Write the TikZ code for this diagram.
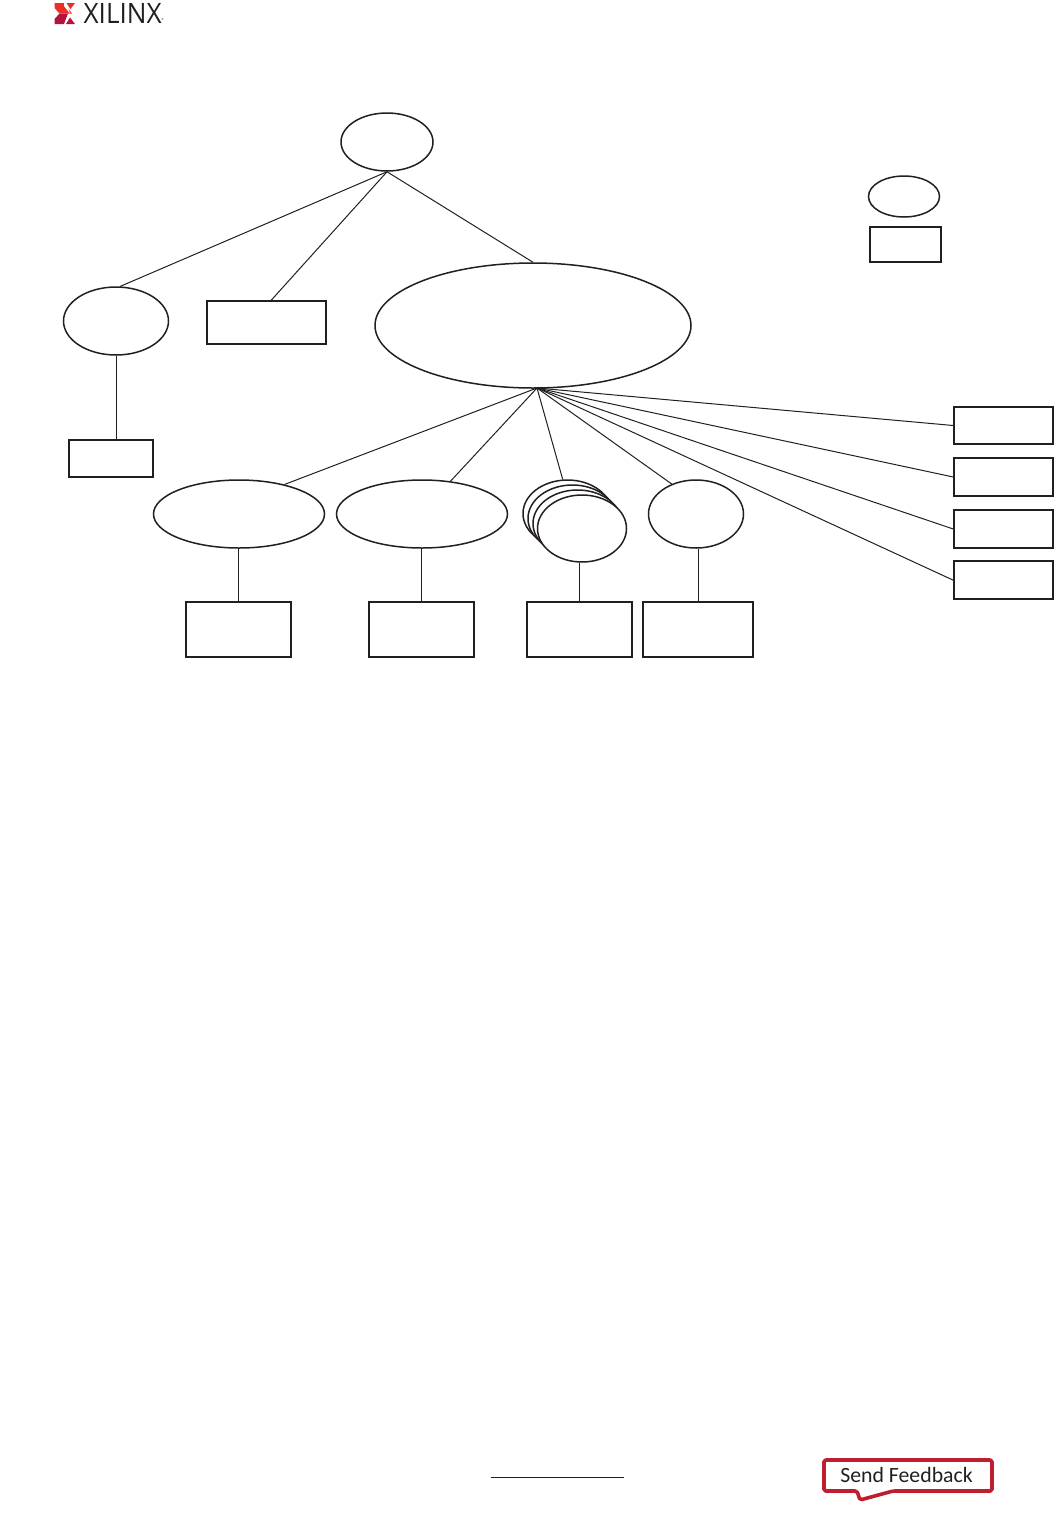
\documentclass[tikz,border=0pt]{standalone}
\usepackage{fontspec}
\setmainfont{Carlito}
\usetikzlibrary{shapes.geometric}
\definecolor{xred}{HTML}{ED2E24}
\definecolor{xdark}{HTML}{B5123E}
\definecolor{xink}{HTML}{231F20}
\definecolor{fbred}{HTML}{BE1E2D}
\tikzset{
  x=0.05cm,y=-0.05cm,
  oval/.style={ellipse,draw=xink,line width=0.75mm,fill=white,inner sep=0pt,minimum width=#1},
  box/.style={rectangle,draw=xink,line width=0.75mm,fill=white,inner sep=0pt,minimum width=#1},
  link/.style={draw=xink,line width=0.5mm},
}
\begin{document}
\begin{tikzpicture}
\useasboundingbox (0,0) rectangle (1062,1516);
% ovals
\node[oval=92*0.05cm,minimum height=58*0.05cm] (root) at (387,142) {};
\node[oval=71*0.05cm,minimum height=41*0.05cm] (keyoval) at (904,196.5) {};
\node[box=71*0.05cm,minimum height=35*0.05cm] (keybox) at (905.5,244.5) {};
\node[oval=105*0.05cm,minimum height=68*0.05cm] (left) at (116,321) {};
\node[box=119*0.05cm,minimum height=43*0.05cm] (mid) at (266.5,322.5) {};
\node[oval=316*0.05cm,minimum height=125*0.05cm] (big) at (533,325.5) {};
\node[box=84*0.05cm,minimum height=37*0.05cm] (leftbox) at (111,458.5) {};
\node[oval=171*0.05cm,minimum height=68*0.05cm] (ca) at (239,514) {};
\node[oval=171*0.05cm,minimum height=68*0.05cm] (cb) at (422,514) {};
\node[oval=89*0.05cm,minimum height=67*0.05cm] (sa) at (567.5,513.5) {};
\node[oval=89*0.05cm,minimum height=67*0.05cm] (sb) at (572.5,518.5) {};
\node[oval=89*0.05cm,minimum height=67*0.05cm] (sc) at (577.5,523.5) {};
\node[oval=89*0.05cm,minimum height=67*0.05cm] (sd) at (582,528.5) {};
\node[oval=95*0.05cm,minimum height=68*0.05cm] (ce) at (696,514) {};
\node[box=105*0.05cm,minimum height=55*0.05cm] (ba) at (238.5,629.5) {};
\node[box=105*0.05cm,minimum height=55*0.05cm] (bb) at (421.5,629.5) {};
\node[box=105*0.05cm,minimum height=55*0.05cm] (bc) at (579.5,629.5) {};
\node[box=110*0.05cm,minimum height=55*0.05cm] (bd) at (698,629.5) {};
\node[box=99*0.05cm,minimum height=37*0.05cm] (ra) at (1003.5,425.5) {};
\node[box=99*0.05cm,minimum height=38*0.05cm] (rb) at (1003.5,477) {};
\node[box=99*0.05cm,minimum height=38*0.05cm] (rc) at (1003.5,529) {};
\node[box=99*0.05cm,minimum height=38*0.05cm] (rd) at (1003.5,580.2) {};
\coordinate (hub) at (537,388);
% connectors
\draw[link] (root.south) -- (left.83);
\draw[link] (root.south) -- (mid.78);
\draw[link] (root.south) -- (big.north);
\draw[link] (left.south) -- (leftbox.north -| left.south);
\draw[link] (hub) -- (ca.33);
\draw[link] (hub) -- (cb.49);
\draw[link] (hub) -- (sa.98);
\draw[link] (hub) -- (ce.129);
\draw[link] (hub) -- (ra.west);
\draw[link] (hub) -- (rb.west);
\draw[link] (hub) -- (rc.west);
\draw[link] (hub) -- (rd.west);
\draw[link] (ca.south -| ba.north) -- (ba.north);
\draw[link] (cb.south -| bb.north) -- (bb.north);
\draw[link] (sd.south -| bc.north) -- (bc.north);
\draw[link] (ce.south -| bd.north) -- (bd.north);
% footer link
\coordinate (ula) at (491,1477);
\coordinate (ulb) at (624,1477);
\draw[blue,line width=0.5mm] (ula) -- (ulb);
% logo
\fill[xred] (54.5,3) -- (64,3) -- (72,13.5) -- (59.5,13.5) -- (54.5,8) -- cycle;
\fill[xdark] (59.5,13.5) -- (68,13.5) -- (64,24) -- (54.5,24) -- (54.5,19) -- cycle;
\fill[white] (70,13.5) -- (64,6) -- (64,3) -- (66.5,3) -- cycle;
\fill[xred] (66.5,3) -- (75,3) -- (70.5,9) -- cycle;
\fill[xdark] (66,24) -- (70,17.5) -- (75,24) -- cycle;
\node[anchor=west,inner sep=0pt,text=xink] (logotext) at (83.5,13.5) {\fontspec{Open Sans}\fontsize{40pt}{40pt}\selectfont\scalebox{0.93}[1]{XILINX}};
\node[anchor=center,inner sep=0pt,text=xink] (logomark) at (163,21) {\fontsize{8pt}{8pt}\selectfont ®};
% feedback
\draw[fbred,line width=1.8mm,line join=round,rounded corners=2.5pt]
  (824,1460) -- (992,1460) -- (992,1491) -- (893,1491)
  -- (860,1500) -- (857,1491) -- (824,1491) -- cycle;
\node[inner sep=0pt,text=xink] (fbtext) at (906.5,1475) {\fontsize{31pt}{31pt}\selectfont Send Feedback};
\end{tikzpicture}
\end{document}
